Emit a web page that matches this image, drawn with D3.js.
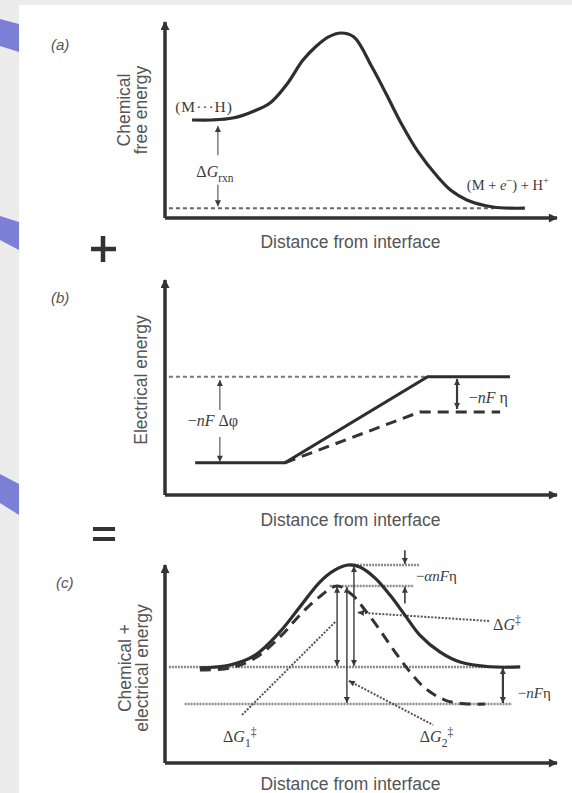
<!DOCTYPE html>
<html>
<head>
<meta charset="utf-8">
<script src="https://cdn.jsdelivr.net/npm/d3@7"></script>
<style>
  body { margin: 0; background: #ececec; }
  svg { display: block; }
</style>
</head>
<body>
<svg id="chart" width="572" height="793"></svg>
<script>
// ---- data (distance 0-100 along x, energy 0-100 along y, per panel) ----
var panelTags = ["(a)", "(b)", "(c)"];
var yTitles = [["Chemical", "free energy"], ["Electrical energy"], ["Chemical +", "electrical energy"]];
var xTitle = "Distance from interface";

// (a) chemical free energy profile
var chemCurve = [[6.9,50],[12,50],[17.3,51],[22,54],[26.8,58.7],[31,68],[35.2,80.6],[38.5,87.5],[41.6,92.3],[44.9,94.4],[48.2,92.3],[52.8,77],[56.5,63],[60.2,48.5],[64.5,34],[69.6,20.9],[73,14],[77,9.2],[83.7,5.6],[91.8,5]];
var chemBase = 5;             // (M + e-) + H+ level
var chemBaseSpan = [1, 84];
var rxnArrows = [[13.5, 32, 47], [13.5, 17, 6]];   // [x, from, to]

// (b) electrical energy
var elecSolid = [[7.7,15],[30.6,15],[67,55],[88,55]];
var elecDashed = [[30.6,15],[65,38.6],[85.5,38.6]];
var elecRef = 55;
var elecRefSpan = [1, 67];
var phiArrows = [[14, 39.5, 53.5], [14, 27, 15.5]];
var etaArrowB = [74.5, 54, 40];

// (c) chemical + electrical energy
var totalSolid = [[8.9,48],[16.6,49.5],[23,54.5],[29.3,66.2],[34.4,78.8],[39.5,91.4],[43.4,97.5],[46.7,100],[49.7,99],[53.6,93.4],[57.4,84.8],[61.2,74.7],[65,64.6],[70.2,56],[75.3,51],[82.9,48.6],[90.6,48.5]];
var totalDashed = [[8.9,47],[16.6,48],[23,53],[29.3,63.6],[34.4,74.7],[39,83.3],[43.9,89.4],[47.7,85],[51,77.3],[54.8,67.2],[58.7,56],[62.5,46],[66.3,37.9],[71.4,31.8],[76.5,29.9],[81.6,29.8]];
var totalLevels = [[100, 46.7, 65], [89.4, 42, 63.5], [48.5, 1, 90.6], [29.8, 5, 88.5]];  // [energy, from, to]
var barrierArrows = [[43.9, 89, 49], [46.4, 89, 30.3], [48.2, 99.5, 49]];
var alphaArrows = [[61.2, 107.5, 100.5], [61.2, 80.5, 89]];
var etaArrowC = [86.2, 48, 30.3];
var leaders = [[[49.2, 76], [82.9, 71.7], true], [[43.4, 71.2], [19.6, 24.2], false], [[46.9, 41.5], [68.4, 19.2], true]];

// ---- drawing ----
var W = 572, H = 793;
var ink = "#333", soft = "#555";
var serif = "'Liberation Serif', 'DejaVu Serif', serif";
var sans = "'Liberation Sans', Arial, sans-serif";

var svg = d3.select("#chart");
svg.append("rect").attr("width", W).attr("height", H).attr("fill", "#ececec");
svg.append("rect").attr("x", 19).attr("y", 5).attr("width", W - 19).attr("height", H - 5).attr("fill", "#fff");

// slide decoration tabs on the left edge
var tabs = [[[0,19],[19,24],[19,52],[0,46]], [[0,216],[19,222],[19,250],[0,240]], [[0,474],[19,484],[19,515],[0,503]]];
svg.selectAll(".tab").data(tabs).enter().append("polygon")
  .attr("points", function (d) { return d.join(" "); })
  .attr("fill", "#7c7fd6");

var defs = svg.append("defs");
defs.append("marker").attr("id", "axisHead")
  .attr("viewBox", "0 0 10 10").attr("refX", 9).attr("refY", 5)
  .attr("markerUnits", "userSpaceOnUse").attr("markerWidth", 11).attr("markerHeight", 9)
  .attr("orient", "auto")
  .append("path").attr("d", "M0,0 L10,5 L0,10 z").attr("fill", ink);
defs.append("marker").attr("id", "head")
  .attr("viewBox", "0 0 10 10").attr("refX", 10).attr("refY", 5)
  .attr("markerUnits", "userSpaceOnUse").attr("markerWidth", 7).attr("markerHeight", 6)
  .attr("orient", "auto-start-reverse")
  .append("path").attr("d", "M0,0 L10,5 L0,10 z").attr("fill", "#3a3a3a");

var x = d3.scaleLinear().domain([0, 100]).range([165, 557]);
var yA = d3.scaleLinear().domain([0, 100]).range([218, 22]);
var yB = d3.scaleLinear().domain([0, 100]).range([495, 280]);
var yC = d3.scaleLinear().domain([0, 100]).range([763, 565]);
var panels = [
  { y: yA, tagX: 51, tagY: 50, titleX: [130, 147], titleY: 110, labelDy: 30 },
  { y: yB, tagX: 51, tagY: 303, titleX: [147], titleY: 380, labelDy: 31 },
  { y: yC, tagX: 56, tagY: 588, titleX: [131, 148], titleY: 668, labelDy: 27 }
];

function rich(g, px, py, parts, size) {
  var t = g.append("text").attr("x", px).attr("y", py)
    .attr("font-family", serif).attr("font-size", size).attr("fill", "#3c3c3c");
  var shift = 0;
  parts.forEach(function (p) {
    var f = p[1] || "";
    var want = f.indexOf("b") >= 0 ? size * 0.3 : (f.indexOf("p") >= 0 ? -size * 0.4 : 0);
    var s = t.append("tspan").text(p[0]).attr("dy", want - shift);
    shift = want;
    if (f.indexOf("i") >= 0) s.attr("font-style", "italic");
    if (want != 0) s.attr("font-size", size * 0.72);
  });
  return t;
}

function arrow(g, y, a, both, w) {
  g.append("line")
    .attr("x1", x(a[0])).attr("y1", y(a[1]))
    .attr("x2", x(a[0])).attr("y2", y(a[2]))
    .attr("stroke", "#3a3a3a").attr("stroke-width", w || 1.4)
    .attr("marker-end", "url(#head)")
    .attr("marker-start", both ? "url(#head)" : null);
}

function level(g, y, v, from, to, dash, color, w) {
  g.append("line")
    .attr("x1", x(from)).attr("x2", x(to))
    .attr("y1", y(v)).attr("y2", y(v))
    .attr("stroke", color).attr("stroke-width", w)
    .attr("stroke-dasharray", dash);
}

var line = function (y, curve) {
  return d3.line().x(function (d) { return x(d[0]); }).y(function (d) { return y(d[1]); }).curve(curve);
};

panels.forEach(function (p, i) {
  var g = svg.append("g");
  // axes with arrow tips
  g.append("line").attr("x1", x(0)).attr("y1", p.y(0)).attr("x2", x(0)).attr("y2", p.y(100))
    .attr("stroke", ink).attr("stroke-width", 3.5).attr("marker-end", "url(#axisHead)");
  g.append("line").attr("x1", x(0)).attr("y1", p.y(0)).attr("x2", x(100)).attr("y2", p.y(0))
    .attr("stroke", ink).attr("stroke-width", 3.5).attr("marker-end", "url(#axisHead)");
  g.append("text").attr("x", x(47.3)).attr("y", p.y(0) + p.labelDy)
    .attr("text-anchor", "middle").attr("font-family", sans).attr("font-size", 17.5)
    .attr("fill", soft).text(xTitle);
  g.append("text").attr("x", p.tagX).attr("y", p.tagY)
    .attr("font-family", sans).attr("font-style", "italic").attr("font-size", 15)
    .attr("fill", soft).text(panelTags[i]);
  yTitles[i].forEach(function (t, k) {
    g.append("text").attr("transform", "translate(" + p.titleX[k] + "," + p.titleY + ") rotate(-90)")
      .attr("text-anchor", "middle").attr("font-family", sans).attr("font-size", 17.5)
      .attr("fill", soft).text(t);
  });
  p.g = g;
});

// (a)
var gA = panels[0].g;
level(gA, yA, chemBase, chemBaseSpan[0], chemBaseSpan[1], "4,3", "#666", 2);
gA.append("path").datum(chemCurve).attr("d", line(yA, d3.curveCatmullRom))
  .attr("fill", "none").attr("stroke", "#2e2e2e").attr("stroke-width", 3.2);
rxnArrows.forEach(function (a) { arrow(gA, yA, a, false, 1); });
rich(gA, x(2.6), yA(54), [["(M···H)"]], 15.5).attr("letter-spacing", 1);
rich(gA, x(8), yA(21), [["Δ"], ["G", "i"], ["rxn", "b"]], 16);
rich(gA, x(77), yA(14.5), [["(M + "], ["e", "i"], ["−", "p"], [") + H"], ["+", "p"]], 14.5);

// plus sign between (a) and (b)
svg.append("path").attr("d", "M91,249 H116 M103,236 V262").attr("stroke", ink).attr("stroke-width", 4.5);

// (b)
var gB = panels[1].g;
level(gB, yB, elecRef, elecRefSpan[0], elecRefSpan[1], "4,3", "#777", 2);
gB.append("path").datum(elecDashed).attr("d", line(yB, d3.curveLinear))
  .attr("fill", "none").attr("stroke", "#333").attr("stroke-width", 3).attr("stroke-dasharray", "11,7");
gB.append("path").datum(elecSolid).attr("d", line(yB, d3.curveLinear))
  .attr("fill", "none").attr("stroke", "#2e2e2e").attr("stroke-width", 3.2);
phiArrows.forEach(function (a) { arrow(gB, yB, a, false, 1); });
arrow(gB, yB, etaArrowB, true, 2.2);
rich(gB, x(5.8), yB(32), [["−"], ["nF", "i"], [" Δφ"]], 16);
rich(gB, x(77.5), yB(43), [["−"], ["nF", "i"], [" η"]], 16);

// equals sign between (b) and (c)
svg.append("path").attr("d", "M93,529 H115 M93,539 H115").attr("stroke", ink).attr("stroke-width", 4);

// (c)
var gC = panels[2].g;
totalLevels.forEach(function (l) { level(gC, yC, l[0], l[1], l[2], "2,1", "#8a8a8a", 2.6); });
leaders.forEach(function (l) {
  gC.append("line")
    .attr("x1", x(l[0][0])).attr("y1", yC(l[0][1]))
    .attr("x2", x(l[1][0])).attr("y2", yC(l[1][1]))
    .attr("stroke", "#555").attr("stroke-width", 2).attr("stroke-dasharray", "2,1.5")
    .attr("marker-start", l[2] ? "url(#head)" : null);
});
gC.append("path").datum(totalDashed).attr("d", line(yC, d3.curveCatmullRom))
  .attr("fill", "none").attr("stroke", "#333").attr("stroke-width", 3).attr("stroke-dasharray", "11,7");
gC.append("path").datum(totalSolid).attr("d", line(yC, d3.curveCatmullRom))
  .attr("fill", "none").attr("stroke", "#2e2e2e").attr("stroke-width", 3.2);
barrierArrows.forEach(function (a) { arrow(gC, yC, a, true, 1.4); });
alphaArrows.forEach(function (a) { arrow(gC, yC, a, false, 1.6); });
arrow(gC, yC, etaArrowC, true, 2.2);
rich(gC, x(64), yC(92), [["−"], ["αnF", "i"], ["η"]], 15);
rich(gC, x(83.7), yC(67), [["Δ"], ["G", "i"], ["‡", "p"]], 16);
rich(gC, x(90), yC(33), [["−"], ["nF", "i"], ["η"]], 15);
rich(gC, x(14.8), yC(10.6), [["Δ"], ["G", "i"], ["1", "b"], ["‡", "p"]], 16);
rich(gC, x(65), yC(10.6), [["Δ"], ["G", "i"], ["2", "b"], ["‡", "p"]], 16);
</script>
</body>
</html>
